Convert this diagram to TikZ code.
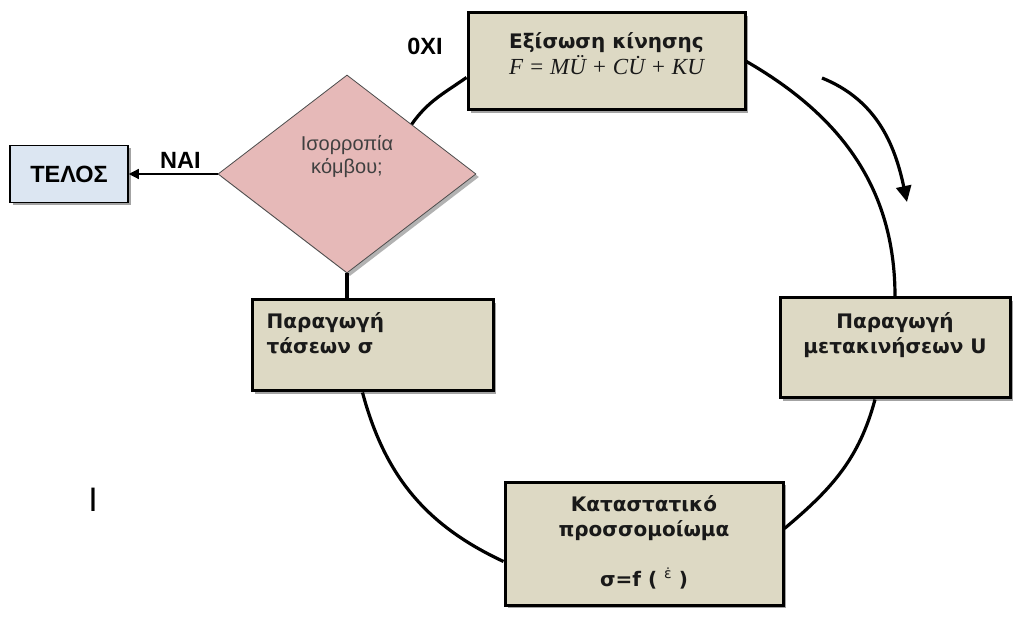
\documentclass[tikz,border=0pt]{standalone}
\usepackage{fontspec}
\newfontfamily\stagefont{DejaVu Sans}
\newfontfamily\armfont{Liberation Sans}
\newfontfamily\eqfont{Liberation Serif}
\definecolor{StageTan}{HTML}{DDD9C4}
\definecolor{DecPink}{HTML}{E6B9B8}
\definecolor{EndBlue}{HTML}{DCE6F2}
\usetikzlibrary{arrows.meta,positioning,shapes.geometric,shadows}

\tikzset{
  stagebox/.style={draw=black,line width=3pt,fill=StageTan,
    drop shadow={shadow xshift=3pt,shadow yshift=-3pt,fill=black!60,opacity=0.6}},
  stagetext/.style={inner sep=0pt,align=center,text=black!90,
    font=\stagefont\bfseries\fontsize{20}{25}\selectfont},
  decision/.style={diamond,draw=black!70,line width=0.8pt,fill=DecPink,
    drop shadow={shadow xshift=3pt,shadow yshift=-3pt,fill=black!60,opacity=0.5}},
  lbl/.style={inner sep=0pt,font=\armfont\bfseries\fontsize{23.5}{25}\selectfont},
  cycle link/.style={line width=3.2pt},
}

\begin{document}
\begin{tikzpicture}[x=1pt,y=1pt]
  \useasboundingbox (0,0) rectangle (1034,622);

  % the four stages and the test
  \node[stagebox,minimum width=277pt,minimum height=97pt] (eqbox) at (606.5,560.5) {};
  \node[stagebox,minimum width=230pt,minimum height=100pt] (ubox) at (895,274) {};
  \node[stagebox,minimum width=278pt,minimum height=123pt] (cbox) at (644,78.5) {};
  \node[stagebox,minimum width=241pt,minimum height=91pt] (sbox) at (372.5,276.5) {};
  \node[decision,minimum width=258pt,minimum height=198pt] (dec) at (347,448) {};
  \node[draw=black,line width=1.6pt,fill=EndBlue,minimum width=118pt,minimum height=57pt,
    drop shadow={shadow xshift=3pt,shadow yshift=-3pt,fill=black!60,opacity=0.6}] (end) at (69,448) {};

  \node[stagetext,below=21pt of eqbox.north] (eqtext)
    {Εξίσωση κίνησης\\[1pt]{\eqfont\mdseries\itshape\fontsize{23}{25}\selectfont F = MÜ + CU̇ + KU}};
  \node[stagetext,below=16pt of ubox.north] (utext) {Παραγωγή\\μετακινήσεων U};
  \node[stagetext,below=15pt of cbox.north] (ctext)
    {Καταστατικό\\προσσομοίωμα\\[25pt]σ=f ( \raisebox{0.75ex}{\mdseries\fontsize{14}{14}\selectfont ε̇} )};
  \node[stagetext,align=left,anchor=north west] (stext) at ([xshift=16pt,yshift=-14pt]sbox.north west)
    {Παραγωγή\\τάσεων σ};
  \node[inner sep=0pt,align=center,text=black!75,below=61pt of dec.north,
    font=\armfont\fontsize{20}{23}\selectfont] (dectext) {Ισορροπία\\κόμβου;};
  \node[lbl] (endtext) at (end) {ΤΕΛΟΣ};

  % the cycle
  \draw[cycle link] (eqbox.east) to[out=-30,in=90] (ubox.north);
  \draw[cycle link] ([xshift=-20pt]ubox.south) to[out=-105,in=40] ([yshift=15pt]cbox.east);
  \draw[cycle link] ([yshift=-18pt]cbox.west) to[out=155,in=-75] ([xshift=-10pt]sbox.south);
  \draw[cycle link] (sbox.north -| dec.south) -- (dec.south);
  \draw[cycle link] (dec.north east) to[out=55,in=215] ([yshift=-16pt]eqbox.west);
  \node[lbl] (nolbl) at (425,576) {0XI};

  \draw[line width=1.4pt,-{Triangle[length=10pt,width=10pt]}] (dec.west) -- (end.east)
    node[lbl,pos=0.42,above=5pt] (yeslbl) {ΝΑΙ};

  % direction of the cycle
  \coordinate (turn1) at (822,544);
  \coordinate (turn2) at (907,420);
  \draw[line width=3.2pt,-{Triangle[length=16pt,width=15pt]}] (turn1) to[out=-22,in=102] (turn2);

  \node[inner sep=0pt,font=\armfont\fontsize{34}{34}\selectfont] (bar) at (93,122) {I};
\end{tikzpicture}
\end{document}
